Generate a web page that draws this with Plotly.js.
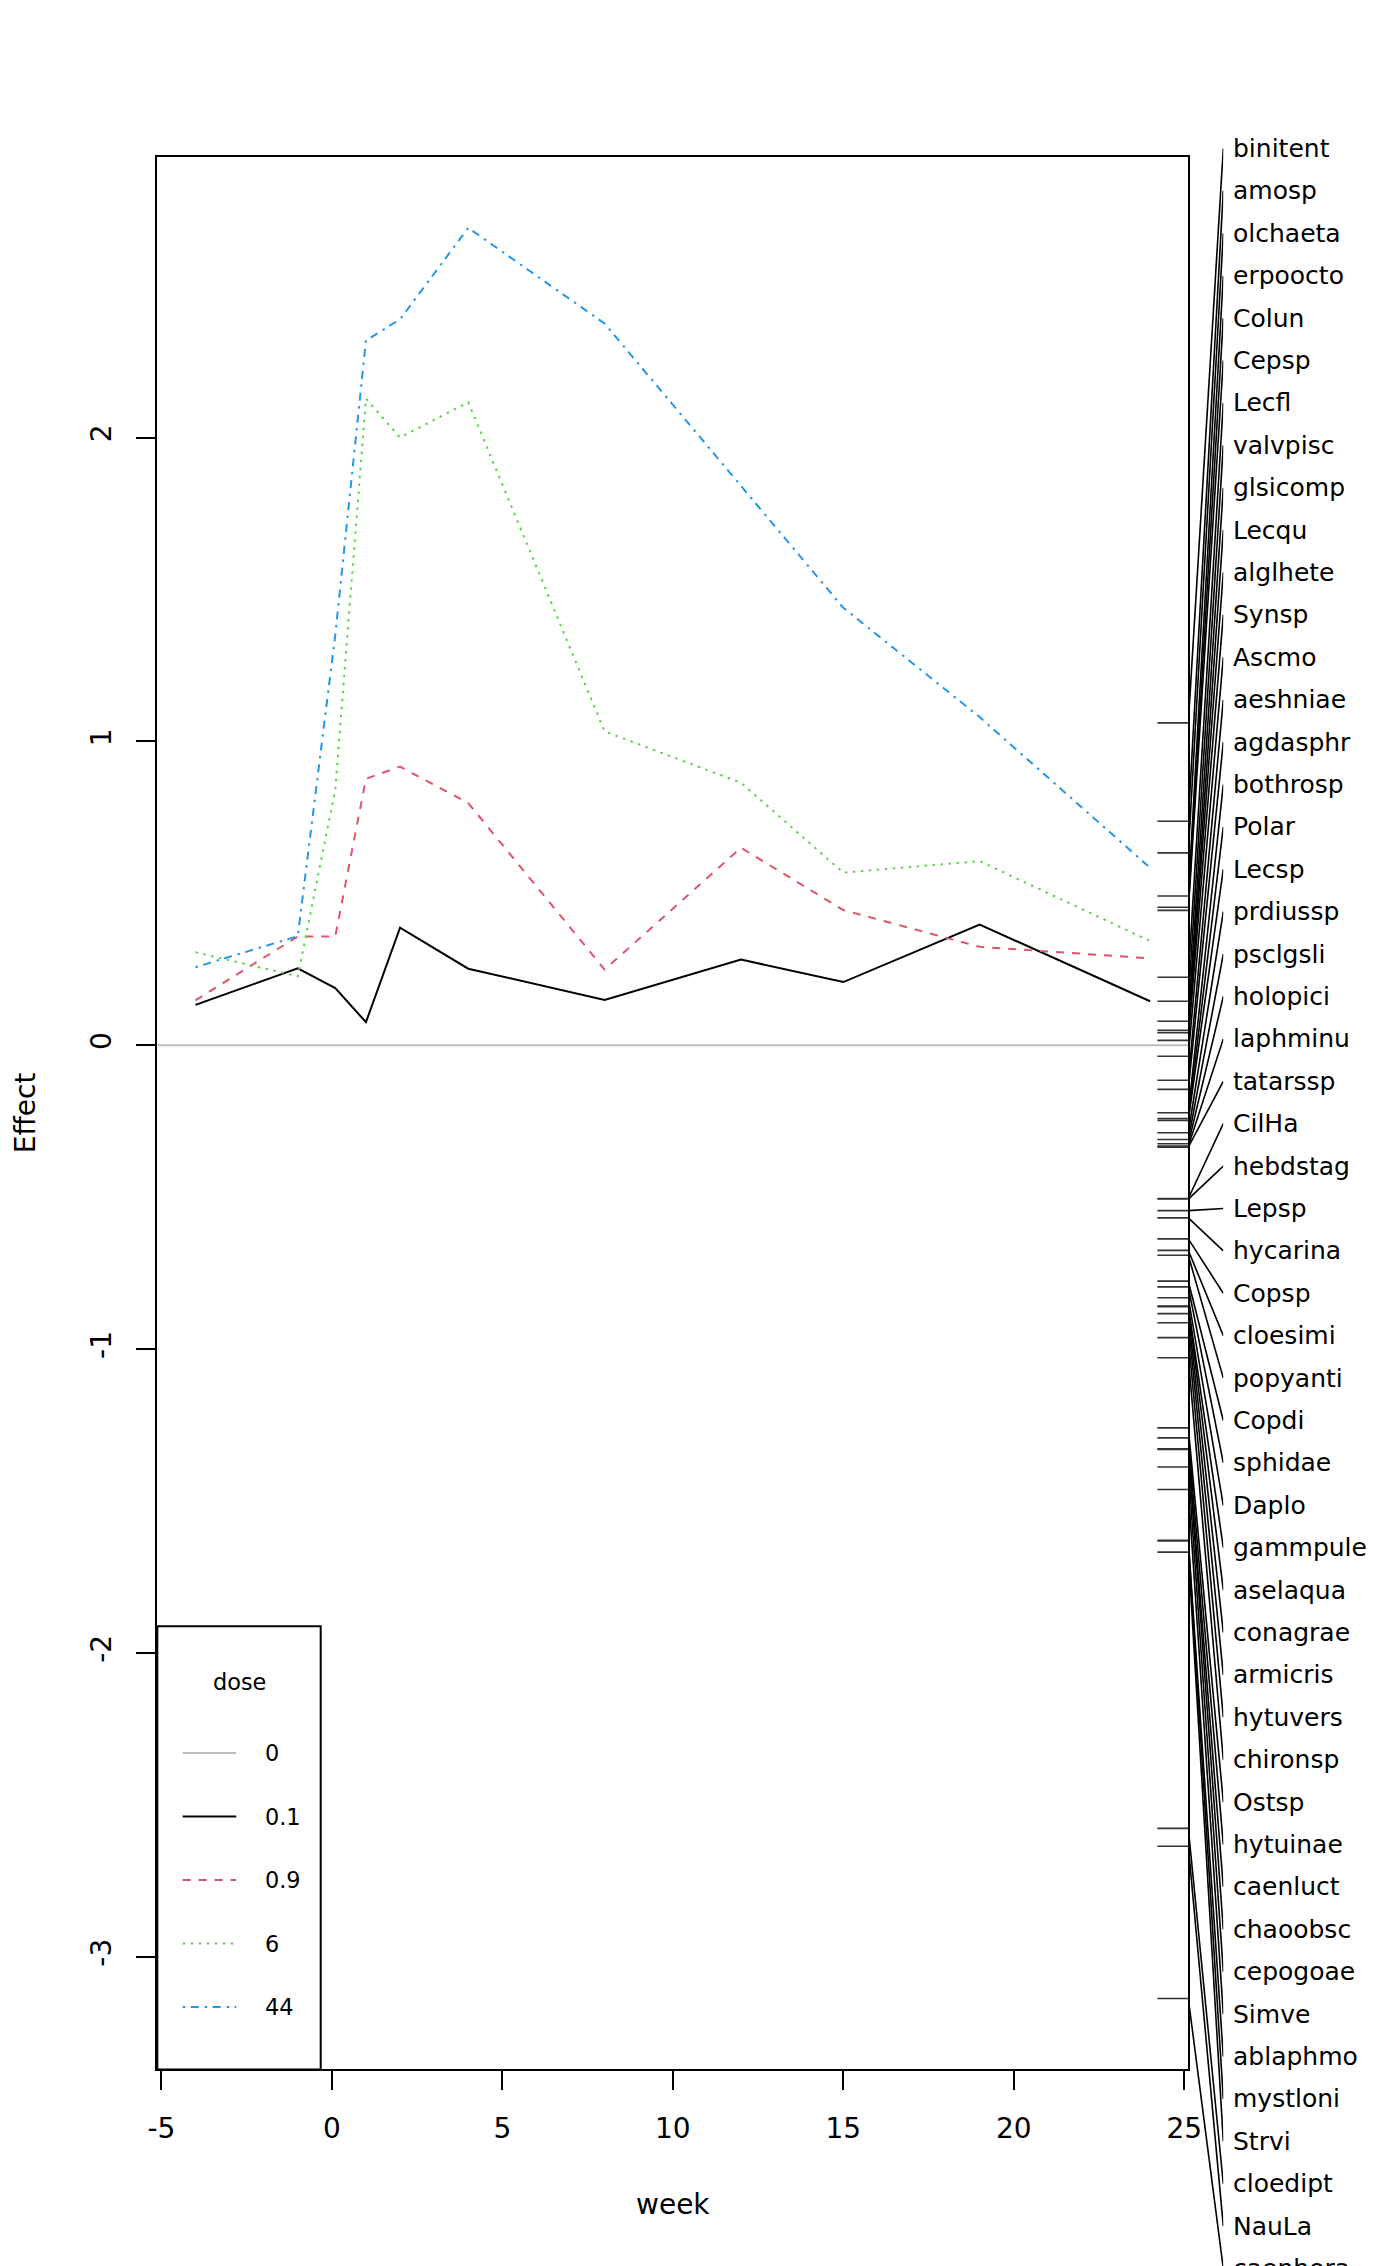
<!DOCTYPE html>
<html>
<head>
<meta charset="utf-8">
<script src="https://cdn.plot.ly/plotly-3.0.1.min.js"></script>
<style>
  html, body { margin: 0; padding: 0; background: #fff; }
  #myDiv { width: 1400px; height: 2266px; }
</style>
</head>
<body>
<div id="myDiv"></div>
<script>
  // weeks of sampling
  var weeks = [-4, -1, 0.1, 1, 2, 4, 8, 12, 15, 19, 24];

  // treatment effects (PRC canonical coefficients) per dose
  var dose01 = [0.133, 0.253, 0.188, 0.076, 0.387, 0.252, 0.149, 0.282, 0.208, 0.397, 0.145];
  var dose09 = [0.148, 0.358, 0.358, 0.877, 0.917, 0.797, 0.249, 0.650, 0.445, 0.324, 0.286];
  var dose6  = [0.306, 0.227, 0.840, 2.128, 2.000, 2.116, 1.033, 0.864, 0.568, 0.606, 0.343];
  var dose44 = [0.257, 0.359, 1.350, 2.319, 2.389, 2.690, 2.375, 1.840, 1.440, 1.080, 0.584];

  var doseLabels = ['0', '0.1', '0.9', '6', '44'];

  // axis ticks, written the way R prints them (plain hyphen)
  var xTicks = [-5, 0, 5, 10, 15, 20, 25];
  var xTickText = ['-5', '0', '5', '10', '15', '20', '25'];
  var yTicks = [-3, -2, -1, 0, 1, 2];
  var yTickText = ['-3', '-2', '-1', '0', '1', '2'];

  // species scores, sorted from highest to lowest
  var species = ['binitent', 'amosp', 'olchaeta', 'erpoocto', 'Colun', 'Cepsp', 'Lecfl',
    'valvpisc', 'glsicomp', 'Lecqu', 'alglhete', 'Synsp', 'Ascmo', 'aeshniae', 'agdasphr',
    'bothrosp', 'Polar', 'Lecsp', 'prdiussp', 'psclgsli', 'holopici', 'laphminu', 'tatarssp',
    'CilHa', 'hebdstag', 'Lepsp', 'hycarina', 'Copsp', 'cloesimi', 'popyanti', 'Copdi',
    'sphidae', 'Daplo', 'gammpule', 'aselaqua', 'conagrae', 'armicris', 'hytuvers', 'chironsp',
    'Ostsp', 'hytuinae', 'caenluct', 'chaoobsc', 'cepogoae', 'Simve', 'ablaphmo', 'mystloni',
    'Strvi', 'cloedipt', 'NauLa', 'caenhora'];
  var spScores = [1.061, 0.737, 0.633, 0.491, 0.454, 0.444, 0.224, 0.145, 0.079, 0.049, 0.041,
    0.016, -0.036, -0.115, -0.145, -0.222, -0.241, -0.247, -0.288, -0.310, -0.324, -0.332,
    -0.335, -0.504, -0.506, -0.544, -0.568, -0.637, -0.675, -0.691, -0.776, -0.795, -0.831,
    -0.858, -0.860, -0.883, -0.913, -0.962, -1.028, -1.259, -1.292, -1.328, -1.330, -1.388,
    -1.462, -1.629, -1.631, -1.668, -2.577, -2.636, -3.137];

  // page geometry (px)
  var W = 1400, H = 2266;
  var box = { l: 157.3, r: 1188.3, t: 157, b: 2069.4 };
  var labelTop = 148.5, labelStep = 42.4, labelLineEnd = 1223.3;
  var font = 'DejaVu Sans, Liberation Sans, sans-serif';

  var cols = ['#BEBEBE', '#000000', '#DF536B', '#61D04F', '#2297E6'];
  var dashes = ['solid', 'solid', '8px,8px', '2.5px,5.5px', '2.5px,5.5px,8px,6px'];

  function padRange(vals) {
    var lo = Math.min.apply(null, vals), hi = Math.max.apply(null, vals);
    var p = 0.04 * (hi - lo);
    return [lo - p, hi + p];
  }
  var xr = padRange(weeks);
  var yr = padRange(dose01.concat(dose09, dose6, dose44, spScores));
  var ySpan = yr[1] - yr[0];
  var unitPx = (box.b - box.t) / ySpan;

  function px(x) { return x / W; }
  function py(y) { return 1 - y / H; }
  function pxToY(p) { return yr[1] - (p - box.t) / unitPx; }

  var series = [dose01, dose09, dose6, dose44];
  var data = series.map(function (s, i) {
    return {
      x: weeks, y: s, mode: 'lines', type: 'scatter', name: doseLabels[i + 1],
      line: { color: cols[i + 1], width: 2, dash: dashes[i + 1] },
      hoverinfo: 'skip', showlegend: false
    };
  });

  // rug of species scores on right side
  var tick = 0.03 * (xr[1] - xr[0]);
  var rx = [], ry = [];
  spScores.forEach(function (s) { rx.push(xr[1] - tick, xr[1], null); ry.push(s, s, null); });
  data.push({ x: rx, y: ry, mode: 'lines', type: 'scatter', showlegend: false, hoverinfo: 'skip',
    line: { color: '#333', width: 1.6 } });

  // linestack: lines from scores to evenly spaced labels
  var lx = [], ly = [];
  species.forEach(function (n, i) {
    lx.push(0, 1, null); ly.push(spScores[i], pxToY(labelTop + i * labelStep), null);
  });
  data.push({ x: lx, y: ly, xaxis: 'x2', yaxis: 'y2', mode: 'lines', type: 'scatter',
    showlegend: false, hoverinfo: 'skip', line: { color: '#000', width: 1.6 } });

  var annotations = species.map(function (n, i) {
    return { xref: 'x2', yref: 'paper', x: 1, y: py(labelTop + i * labelStep), text: n, showarrow: false,
      xanchor: 'left', yanchor: 'middle', xshift: 8, font: { family: font, size: 25, color: '#000' } };
  });
  annotations.push({ xref: 'paper', yref: 'paper', x: px((box.l + box.r) / 2), y: py(2204),
    text: 'week', showarrow: false, xanchor: 'center', yanchor: 'middle', font: { family: font, size: 28, color: '#000' } });
  annotations.push({ xref: 'paper', yref: 'paper', x: px(25), y: py((box.t + box.b) / 2),
    text: 'Effect', textangle: -90, showarrow: false, xanchor: 'center', yanchor: 'middle', font: { family: font, size: 28, color: '#000' } });

  // legend drawn by hand like base R
  var leg = { l: 157.3, r: 320.7, t: 1626.3, b: box.b, x0: 182.7, x1: 236.3, tx: 263, first: 1753, step: 63.5 };
  var shapes = [
    { type: 'line', xref: 'x domain', x0: 0, x1: 1, yref: 'y', y0: 0, y1: 0,
      line: { color: cols[0], width: 2 }, layer: 'below' },
    { type: 'rect', xref: 'paper', yref: 'paper', x0: px(leg.l), x1: px(leg.r), y0: py(leg.b), y1: py(leg.t),
      line: { color: '#000', width: 2 }, fillcolor: '#fff' }
  ];
  annotations.push({ xref: 'paper', yref: 'paper', x: px(239), y: py(1681.6), text: 'dose', showarrow: false,
    xanchor: 'center', yanchor: 'middle', font: { family: font, size: 22.4, color: '#000' } });
  doseLabels.forEach(function (d, i) {
    var yy = py(leg.first + i * leg.step);
    shapes.push({ type: 'line', xref: 'paper', yref: 'paper', x0: px(leg.x0), x1: px(leg.x1), y0: yy, y1: yy,
      line: { color: cols[i], width: 2, dash: dashes[i] } });
    annotations.push({ xref: 'paper', yref: 'paper', x: px(leg.tx), y: yy, text: d, showarrow: false,
      xanchor: 'left', yanchor: 'middle', font: { family: font, size: 22.4, color: '#000' } });
  });

  var yDom = [py(box.b), py(box.t)];
  var y2r = [yr[0] - yDom[0] * ySpan / (yDom[1] - yDom[0]), yr[1] + (1 - yDom[1]) * ySpan / (yDom[1] - yDom[0])];

  var axisFont = { family: font, size: 28, color: '#000' };
  var layout = {
    width: W, height: H,
    margin: { l: 0, r: 0, t: 0, b: 0, pad: 0 },
    paper_bgcolor: '#fff', plot_bgcolor: '#fff',
    showlegend: false,
    xaxis: {
      domain: [px(box.l), px(box.r)], range: xr, tickmode: 'array', tickvals: xTicks, ticktext: xTickText,
      ticks: 'outside', ticklen: 19, tickwidth: 2, tickcolor: '#000', ticklabelstandoff: 14,
      showline: true, linewidth: 2, linecolor: '#000', mirror: true,
      showgrid: false, zeroline: false, tickfont: axisFont
    },
    yaxis: {
      domain: yDom, range: yr, tickmode: 'array', tickvals: yTicks, ticktext: yTickText, tickangle: -90,
      ticks: 'outside', ticklen: 19, tickwidth: 2, tickcolor: '#000', ticklabelstandoff: 14,
      showline: true, linewidth: 2, linecolor: '#000', mirror: true,
      showgrid: false, zeroline: false, tickfont: axisFont
    },
    xaxis2: { domain: [px(box.r), px(labelLineEnd)], range: [0, 1], visible: false, anchor: 'y2' },
    yaxis2: { domain: [0, 1], range: y2r, visible: false, anchor: 'x2' },
    shapes: shapes,
    annotations: annotations
  };

  Plotly.newPlot('myDiv', data, layout, { staticPlot: true });
</script>
</body>
</html>
